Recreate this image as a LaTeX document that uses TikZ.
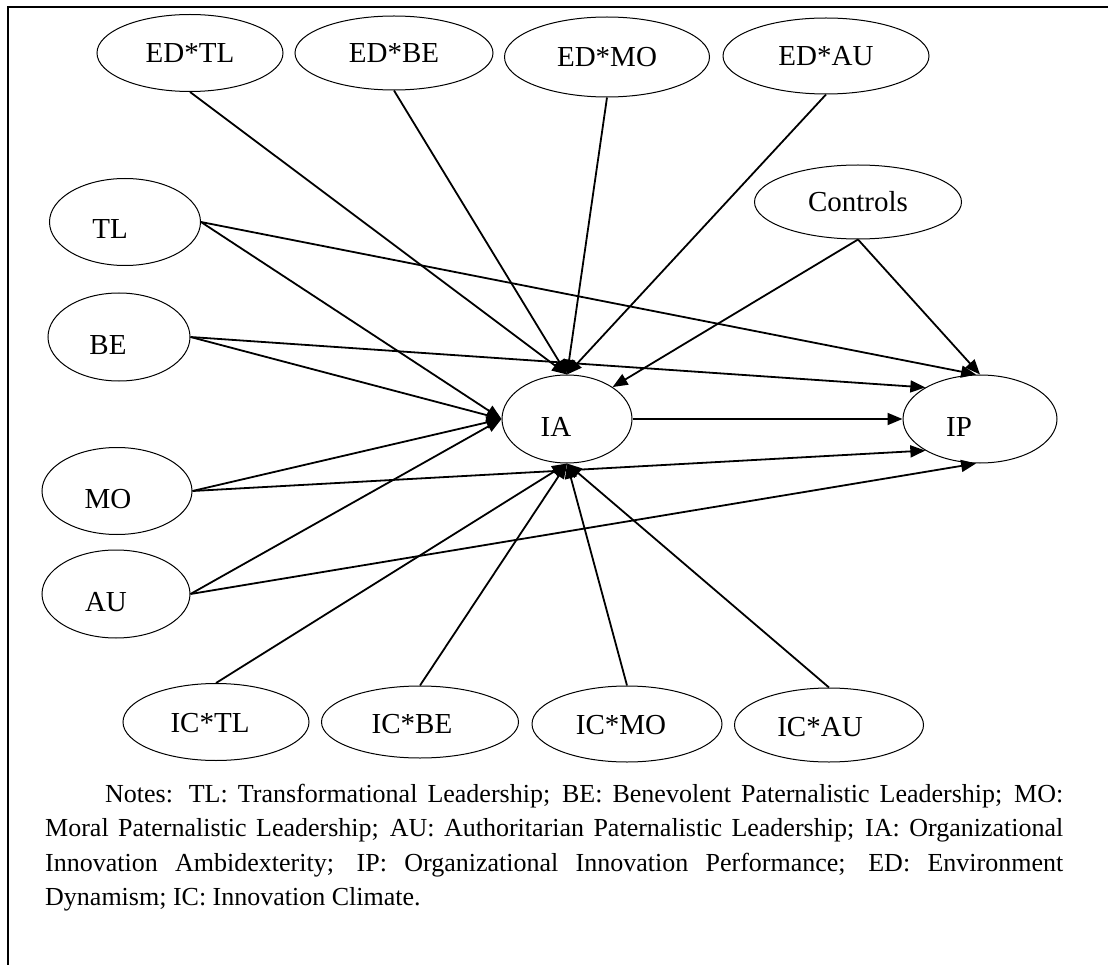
\documentclass[tikz,border=0pt]{standalone}
\usepackage{fontspec}
\setmainfont{Liberation Serif}
\usetikzlibrary{shapes.geometric,arrows.meta}

\tikzset{
  var/.style={draw, ellipse, line width=1pt, inner sep=0pt,
    font=\fontsize{29pt}{34pt}\selectfont},
  txt/.style={font=\fontsize{29pt}{34pt}\selectfont, inner sep=0pt},
  path/.style={line width=1.8pt, -{Triangle[length=15pt,width=12pt]}},
  frameline/.style={line width=2.5pt}
}

\begin{document}
\begin{tikzpicture}[x=1pt,y=-1pt]
\useasboundingbox (0,0) rectangle (1108,965);

% open frame along the top and left edges
\draw[frameline] (8,965) -- (8,7) -- (1108,7);

% moderators (environment dynamism)
\node[var, minimum width=186pt, minimum height=77pt] (EDTL) at (190,53) {ED*TL};
\node[var, minimum width=198pt, minimum height=74pt] (EDBE) at (394,53) {ED*BE};
\node[var, minimum width=205pt, minimum height=80pt] (EDMO) at (607,57) {ED*MO};
\node[var, minimum width=206pt, minimum height=76pt] (EDAU) at (826,56) {ED*AU};
\node[var, minimum width=207pt, minimum height=74pt] (CTRL) at (858,202) {Controls};

% leadership styles
\node[var, minimum width=151pt, minimum height=87pt,
      label={[txt, shift={(-15,7)}]center:TL}] (TL) at (125,222) {};
\node[var, minimum width=142pt, minimum height=88pt,
      label={[txt, shift={(-11,8)}]center:BE}] (BE) at (119,337) {};
\node[var, minimum width=150pt, minimum height=87pt,
      label={[txt, shift={(-9,8)}]center:MO}] (MO) at (117,491) {};
\node[var, minimum width=148pt, minimum height=88pt,
      label={[txt, shift={(-10,8)}]center:AU}] (AU) at (116,594) {};

% mediator and outcome
\node[var, minimum width=130pt, minimum height=88pt,
      label={[txt, shift={(-11,8)}]center:IA}] (IA) at (567,419) {};
\node[var, minimum width=154pt, minimum height=88pt,
      label={[txt, shift={(-21,8)}]center:IP}] (IP) at (980,419) {};

% moderators (innovation climate)
\node[var, minimum width=186pt, minimum height=77pt,
      label={[txt, shift={(-6,1)}]center:IC*TL}] (ICTL) at (216,722) {};
\node[var, minimum width=197pt, minimum height=72pt,
      label={[txt, shift={(-8,2)}]center:IC*BE}] (ICBE) at (420,722) {};
\node[var, minimum width=190pt, minimum height=76pt,
      label={[txt, shift={(-6,1)}]center:IC*MO}] (ICMO) at (627,724) {};
\node[var, minimum width=189pt, minimum height=74pt,
      label={[txt, shift={(-9,2)}]center:IC*AU}] (ICAU) at (829,725) {};

% paths into IA from above
\draw[path] (EDTL.south) -- (IA.north);
\draw[path] (EDBE.south) -- (IA.north);
\draw[path] (EDMO.south) -- (IA.north);
\draw[path] (EDAU.south) -- (IA.north);
\draw[path] (CTRL.south) -- (IA.35);
\draw[path] (CTRL.south) -- (IP.north);

% leadership paths
\draw[path] (TL.east) -- (IA.west);
\draw[path] (TL.east) -- (IP.95);
\draw[path] (BE.east) -- (IA.west);
\draw[path] (BE.east) -- (IP.150);
\draw[path] (MO.east) -- (IA.west);
\draw[path] (MO.east) -- (IP.210);
\draw[path] (AU.east) -- (IA.west);
\draw[path] (AU.east) -- (IP.265);

% mediation path
\draw[path] (IA.east) -- (IP.west);

% paths into IA from below
\draw[path] (ICTL.north) -- (IA.south);
\draw[path] (ICBE.north) -- (IA.south);
\draw[path] (ICMO.north) -- (IA.south);
\draw[path] (ICAU.north) -- (IA.south);

% notes
\node[anchor=base west, inner sep=0pt, text width=1018pt, align=justify,
      font=\fontsize{26pt}{34.5pt}\selectfont] (notes) at (45,802)
  {\hspace*{60pt}Notes: TL: Transformational Leadership; BE: Benevolent Paternalistic Leadership; MO:\linebreak
   Moral Paternalistic Leadership; AU: Authoritarian Paternalistic Leadership; IA: Organizational\linebreak
   Innovation Ambidexterity; IP: Organizational Innovation Performance; ED: Environment\linebreak
   Dynamism; IC: Innovation Climate.};
\end{tikzpicture}
\end{document}
